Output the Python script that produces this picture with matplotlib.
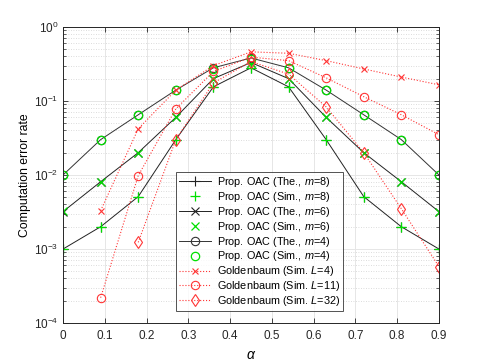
import numpy as np
import matplotlib
matplotlib.use("Agg")
import matplotlib.pyplot as plt
from matplotlib.ticker import LogLocator, NullFormatter, FixedLocator

plt.rcParams['font.family'] = ['Liberation Sans', 'DejaVu Sans']
plt.rcParams['mathtext.fontset'] = 'custom'
plt.rcParams['mathtext.it'] = 'Liberation Sans:italic'
plt.rcParams['mathtext.rm'] = 'Liberation Sans'

alpha = [0.0, 0.09, 0.18, 0.27, 0.36, 0.45, 0.54, 0.63, 0.72, 0.81, 0.9]

m8_the = [0.001, 0.002, 0.0051, 0.03, 0.155, 0.28, 0.155, 0.03, 0.0051, 0.002, 0.001]
m8_sim = [0.001, 0.002, 0.0051, 0.03, 0.155, 0.28, 0.155, 0.03, 0.0051, 0.002, 0.001]
m6_the = [0.0032, 0.0081, 0.02, 0.06, 0.2, 0.33, 0.2, 0.06, 0.02, 0.0081, 0.0032]
m6_sim = [0.0033, 0.0081, 0.02, 0.06, 0.2, 0.33, 0.2, 0.06, 0.02, 0.0081, 0.0032]
m4_the = [0.01, 0.03, 0.065, 0.14, 0.28, 0.38, 0.28, 0.14, 0.065, 0.03, 0.01]
m4_sim = [0.01, 0.03, 0.065, 0.14, 0.27, 0.37, 0.28, 0.14, 0.065, 0.03, 0.01]

gb_L4 = [np.nan, 0.0033, 0.042, 0.14, 0.30, 0.46, 0.44, 0.35, 0.27, 0.21, 0.165]
gb_L11 = [np.nan, 0.00022, 0.0098, 0.078, 0.25, 0.39, 0.35, 0.205, 0.114, 0.065, 0.035]
gb_L32 = [np.nan, np.nan, 0.00123, 0.03, 0.175, 0.34, 0.23, 0.083, 0.02, 0.0035, 0.00058]

labels = [r'Prop. OAC (The., $m$=8)', r'Prop. OAC (Sim., $m$=8)',
          r'Prop. OAC (The., $m$=6)', r'Prop. OAC (Sim., $m$=6)',
          r'Prop. OAC (The., $m$=4)', r'Prop. OAC (Sim., $m$=4)',
          r'Goldenbaum (Sim. $L$=4)', r'Goldenbaum (Sim. $L$=11)',
          r'Goldenbaum (Sim. $L$=32)']

fig = plt.figure(figsize=(4.85, 3.63), dpi=100)
ax = fig.add_axes([0.130, 0.110, 0.775, 0.816])

lc = '#222222'
gc = '#00e000'
rc = '#ff3535'
lw = 0.7

ax.plot(alpha, m8_the, linestyle='-', marker='+', color=lc, lw=lw, ms=6.5, mew=0.8, label=labels[0])
ax.plot(alpha, m8_sim, linestyle='none', marker='+', color=gc, ms=6.5, mew=0.9, label=labels[1])
ax.plot(alpha, m6_the, linestyle='-', marker='x', color=lc, lw=lw, ms=6, mew=0.8, label=labels[2])
ax.plot(alpha, m6_sim, linestyle='none', marker='x', color=gc, ms=6, mew=0.9, label=labels[3])
ax.plot(alpha, m4_the, linestyle='-', marker='o', color='#333333', mfc='none', lw=lw, ms=6, mew=0.8, label=labels[4])
ax.plot(alpha, m4_sim, linestyle='none', marker='o', color=gc, mfc='none', ms=6, mew=0.9, label=labels[5])
ax.plot(alpha, gb_L4, linestyle=':', marker='x', color=rc, lw=0.8, ms=4.5, mew=0.8, label=labels[6])
ax.plot(alpha, gb_L11, linestyle=':', marker='o', color=rc, mfc='none', lw=0.8, ms=6, mew=0.8, label=labels[7])
ax.plot(alpha, gb_L32, linestyle=':', marker='d', color=rc, mfc='none', lw=0.8, ms=6, mew=0.8, label=labels[8])

ax.set_yscale('log')
ax.set_xlim(0, 0.9)
ax.set_ylim(1e-4, 1)
ax.xaxis.set_major_locator(FixedLocator([0, 0.1, 0.2, 0.3, 0.4, 0.5, 0.6, 0.7, 0.8, 0.9]))
ax.set_xticklabels(['0', '0.1', '0.2', '0.3', '0.4', '0.5', '0.6', '0.7', '0.8', '0.9'])
ax.yaxis.set_major_locator(LogLocator(base=10, numticks=10))
ax.yaxis.set_minor_locator(LogLocator(base=10, subs=np.arange(2, 10), numticks=20))
ax.yaxis.set_minor_formatter(NullFormatter())

ax.grid(True, which='major', color='#e6e6e6', lw=0.7, ls='-')
ax.grid(True, which='minor', axis='y', color='#d0d0d0', lw=0.6, ls=(0, (1, 2)))
ax.set_axisbelow(True)

ax.tick_params(which='both', direction='in', top=True, right=True, labelsize=8.5, colors='#262626')
ax.tick_params(which='major', length=3.5, width=0.6)
ax.tick_params(which='minor', length=2, width=0.5)
ax.tick_params(axis='x', pad=5)
for s in ax.spines.values():
    s.set_color('#262626')
    s.set_linewidth(0.7)

ax.set_xlabel(r'$\alpha$', fontsize=10, labelpad=4)
ax.set_ylabel('Computation error rate', fontsize=8.8, labelpad=2)

leg = ax.legend(loc='center', bbox_to_anchor=(0.523, 0.275), fontsize=7.8, frameon=True,
                fancybox=False, edgecolor='#262626', handlelength=2.9, handletextpad=0.6,
                labelspacing=0.08, borderpad=0.25, borderaxespad=0)
leg.get_frame().set_linewidth(0.7)

fig.savefig('out.png', dpi=100)
